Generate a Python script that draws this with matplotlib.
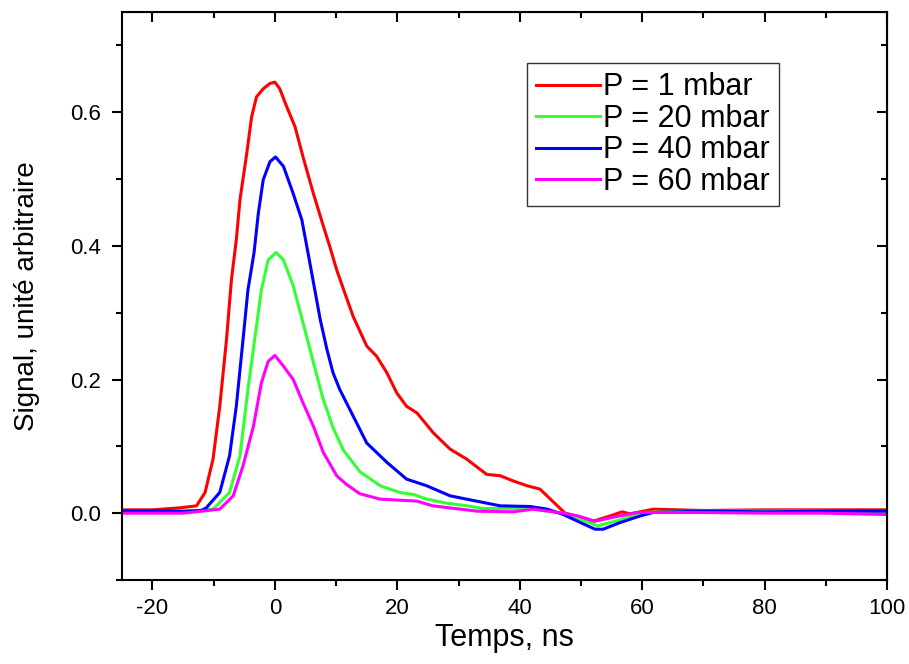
import numpy as np
import matplotlib.pyplot as plt
from matplotlib.ticker import MultipleLocator

plt.rcParams['font.family'] = ['Liberation Sans', 'DejaVu Sans']
plt.rcParams['axes.unicode_minus'] = False

# Red curve, P = 1 mbar
t_1 = [-25, -20, -15.5, -12.8, -11.4, -10.1, -9.0, -7.9, -7.1, -6.3, -5.7, -4.6,
       -3.8, -3.0, -1.9, -0.8, 0, 0.8, 1.9, 3.3, 4.6, 6.3, 7.9, 9.0, 10.1, 11.4,
       12.8, 15.0, 16.6, 18.3, 19.9, 21.5, 23.2, 25.9, 28.6, 31.3, 34.6, 36.8,
       39.0, 41.2, 43.3, 45.0, 47.4, 49.9, 52.0, 54.8, 56.7, 58.0, 61.8, 70, 80,
       90, 100]
s_1 = [0.005, 0.005, 0.008, 0.011, 0.031, 0.081, 0.16, 0.26, 0.349, 0.409, 0.469,
       0.538, 0.593, 0.623, 0.635, 0.643, 0.645, 0.635, 0.609, 0.578, 0.533,
       0.478, 0.43, 0.398, 0.364, 0.33, 0.294, 0.25, 0.235, 0.21, 0.18, 0.16,
       0.15, 0.12, 0.096, 0.081, 0.058, 0.056, 0.048, 0.041, 0.036, 0.021, 0.0,
       -0.006, -0.012, -0.004, 0.002, -0.001, 0.006, 0.004, 0.005, 0.005, 0.005]

# Green curve, P = 20 mbar
t_20 = [-25, -15, -10.1, -7.4, -5.7, -4.4, -3.3, -2.2, -1.1, 0.2, 1.4, 3.0, 4.6,
        6.3, 7.9, 9.5, 11.2, 13.9, 17.2, 20.4, 22.6, 24.8, 28.0, 31.4, 34.0, 41.7,
        47.1, 49.9, 52.7, 56.4, 59.7, 70, 80, 90, 100]
s_20 = [0.002, 0.002, 0.006, 0.031, 0.086, 0.185, 0.26, 0.334, 0.379, 0.39, 0.379,
        0.34, 0.285, 0.225, 0.17, 0.128, 0.094, 0.062, 0.041, 0.031, 0.028, 0.021,
        0.015, 0.011, 0.007, 0.007, 0.0, -0.009, -0.019, -0.01, 0.001, 0.003,
        0.003, 0.003, 0.002]

# Blue curve, P = 40 mbar
t_40 = [-25, -15, -12, -11.2, -9.0, -7.4, -6.3, -5.2, -4.4, -3.4, -2.7, -1.9, -0.8,
        0.1, 1.4, 3.0, 4.4, 5.4, 6.3, 7.4, 8.5, 9.5, 10.6, 11.7, 12.8, 13.9, 15.0,
        18.3, 21.5, 24.8, 28.6, 31.3, 36.8, 41.7, 44.5, 47.1, 49.9, 52.3, 53.6,
        56.4, 59.7, 61.8, 70, 80, 90, 100]
s_40 = [0.003, 0.003, 0.004, 0.008, 0.031, 0.086, 0.16, 0.26, 0.334, 0.39, 0.449,
        0.499, 0.526, 0.533, 0.519, 0.478, 0.439, 0.39, 0.345, 0.29, 0.245, 0.21,
        0.185, 0.165, 0.145, 0.125, 0.105, 0.076, 0.051, 0.041, 0.026, 0.021,
        0.011, 0.01, 0.006, -0.002, -0.014, -0.024, -0.024, -0.014, -0.004, 0.001,
        0.003, 0.002, 0.003, 0.003]

# Magenta curve, P = 60 mbar
t_60 = [-25, -15, -9.0, -6.8, -5.2, -3.5, -2.2, -1.1, 0, 1.4, 3.0, 4.6, 6.3, 7.9,
        10.1, 11.7, 13.9, 17.2, 23.2, 25.8, 33.0, 38.9, 42.2, 47.1, 49.4, 52.3,
        55.3, 59.2, 70, 80, 90, 100]
s_60 = [0.0, 0.0, 0.006, 0.026, 0.071, 0.13, 0.195, 0.227, 0.236, 0.22, 0.2, 0.165,
        0.13, 0.091, 0.056, 0.043, 0.029, 0.021, 0.018, 0.011, 0.003, 0.002, 0.006,
        0.0, -0.004, -0.012, -0.006, 0.001, 0.001, 0.0, 0.0, -0.002]

series = [
    (t_1, s_1, '#ff0000', 'P = 1 mbar'),
    (t_20, s_20, '#33ff33', 'P = 20 mbar'),
    (t_40, s_40, '#0000ff', 'P = 40 mbar'),
    (t_60, s_60, '#ff00ff', 'P = 60 mbar'),
]

fig = plt.figure(figsize=(9.09, 6.64), dpi=100)
ax = fig.add_axes([0.134, 0.1265, 0.842, 0.8555])

for t, s, c, lab in series:
    ax.plot(t, s, color=c, lw=2.2, label=lab)

ax.set_xlim(-25, 100)
ax.set_ylim(-0.1, 0.75)
ax.xaxis.set_major_locator(MultipleLocator(20))
ax.xaxis.set_minor_locator(MultipleLocator(10))
ax.yaxis.set_minor_locator(MultipleLocator(0.1))
ax.set_yticks([0.0, 0.2, 0.4, 0.6])
ax.set_yticklabels(['0.0', '0.2', '0.4', '0.6'])

for sp in ax.spines.values():
    sp.set_linewidth(1.5)
ax.tick_params(which='both', direction='out', width=1.5, labelsize=16)
ax.tick_params(axis='x', pad=6)
ax.tick_params(axis='y', pad=8)
ax.tick_params(which='major', length=7)
ax.tick_params(which='minor', length=4.5)

# inward ticks on the top and right
top = ax.secondary_xaxis('top')
top.xaxis.set_major_locator(MultipleLocator(20))
top.xaxis.set_minor_locator(MultipleLocator(10))
top.tick_params(which='both', direction='in', width=1.5, labeltop=False)
top.tick_params(which='major', length=7)
top.tick_params(which='minor', length=4.5)
right = ax.secondary_yaxis('right')
right.yaxis.set_major_locator(MultipleLocator(0.2))
right.yaxis.set_minor_locator(MultipleLocator(0.1))
right.tick_params(which='both', direction='in', width=1.5, labelright=False)
right.tick_params(which='major', length=7)
right.tick_params(which='minor', length=4.5)

ax.set_xlabel('Temps, ns', fontsize=22, labelpad=3)
ax.set_ylabel('Signal, unité arbitraire', fontsize=20, labelpad=22)

leg = ax.legend(loc='upper left', bbox_to_anchor=(0.529, 0.91), fontsize=22,
                frameon=True, fancybox=False, edgecolor='black', handlelength=2.1,
                labelspacing=0.05, borderpad=0.3, handletextpad=0.1,
                borderaxespad=0)
leg.get_frame().set_linewidth(1.0)

fig.savefig('out.png', dpi=100)
